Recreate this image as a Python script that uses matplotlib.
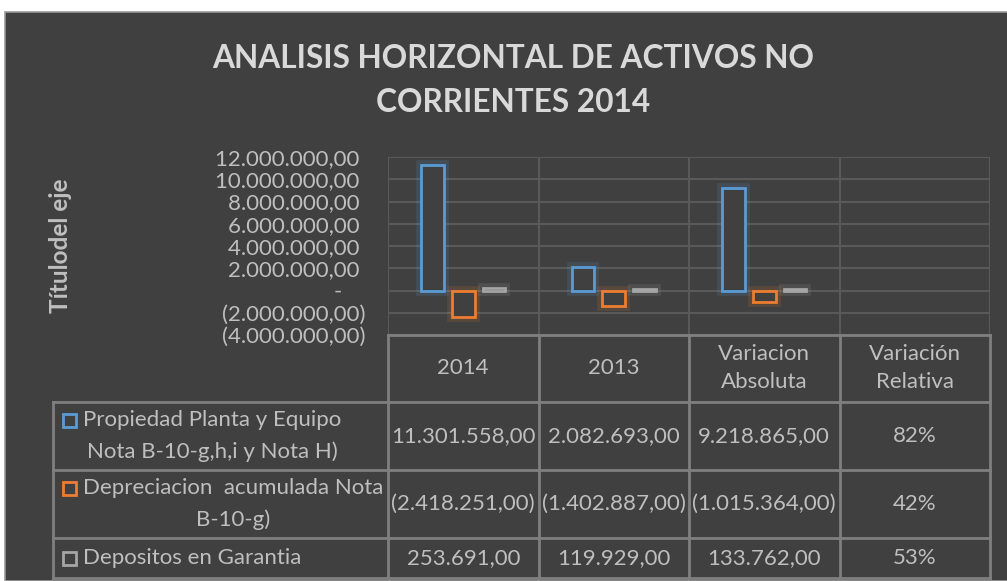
import matplotlib
matplotlib.use("Agg")
import matplotlib.pyplot as plt
from matplotlib.patches import Rectangle

plt.rcParams['font.family'] = ['Lato', 'DejaVu Sans']

# data
categories = ['2014', '2013', 'Variacion\nAbsoluta', 'Variación\nRelativa']
series_names = ['Propiedad Planta y Equipo\nNota B-10-g,h,i y Nota H)',
                'Depreciacion  acumulada Nota\nB-10-g)',
                'Depositos en Garantia']
propiedad = [11301558.00, 2082693.00, 9218865.00]
depreciacion = [-2418251.00, -1402887.00, -1015364.00]
depositos = [253691.00, 119929.00, 133762.00]
relativa = [0.82, 0.42, 0.53]
y_ticks = [-4e6, -2e6, 0, 2e6, 4e6, 6e6, 8e6, 10e6, 12e6]

series = [propiedad, depreciacion, depositos]
colors = ['#5B9BD5', '#ED7D31', '#A5A5A5']

BG = '#404040'
TXT = '#BFBFBF'
GRID = '#595959'
BORDER = '#7F7F7F'
FS = 16


def fmt(v, dash_zero=False):
    if v == 0 and dash_zero:
        return '-   '
    s = f'{abs(v):,.2f}'.replace(',', 'X').replace('.', ',').replace('X', '.')
    return f'({s})' if v < 0 else s


W, H = 1007, 581
fig = plt.figure(figsize=(W / 100, H / 100), dpi=100, facecolor='white')
fig.patches.append(Rectangle((5 / W, 0), 1, (H - 12) / H, transform=fig.transFigure,
                             facecolor=BG, edgecolor='#9a9a9a', lw=1.2, zorder=-10))

fig.text(0.5 + 10 / W, (H - 58) / H, 'ANALISIS HORIZONTAL DE ACTIVOS NO',
         ha='center', va='center', color='#D9D9D9', fontsize=22.8, fontweight='bold')
fig.text(0.5 + 10 / W, (H - 102) / H, 'CORRIENTES 2014',
         ha='center', va='center', color='#D9D9D9', fontsize=22.8, fontweight='bold')

# chart area
ax = fig.add_axes([388 / W, (H - 335) / H, 602 / W, 178 / H])
ax.patch.set_alpha(0)
ax.set_xlim(-0.5, 3.5)
ax.set_ylim(min(y_ticks), max(y_ticks))
ax.set_yticks(y_ticks)
ax.set_yticklabels([fmt(t, dash_zero=True) + ('' if t < 0 else ' ') for t in y_ticks])
ax.tick_params(axis='y', length=0, pad=16.5, labelcolor=TXT, labelsize=FS)
ax.set_xticks([])
for s in ax.spines.values():
    s.set_visible(False)
ax.grid(axis='y', color=GRID, lw=1.5, zorder=0)
for xb in range(len(categories) + 1):
    ax.axvline(xb - 0.5, color=GRID, lw=1.5, zorder=0)

offsets = [-0.203, 0.0, 0.203]
bw = 0.15
for vals, off, c in zip(series, offsets, colors):
    xs = [i + off for i in range(len(vals))]
    # soft glow
    ax.bar(xs, vals, bw, color='none', edgecolor=c, lw=7, alpha=0.15, zorder=2)
    ax.bar(xs, vals, bw, color=BG, edgecolor=c, lw=2, zorder=3)

fig.text(60 / W, (H - 246) / H, 'Títulodel eje', rotation=90, ha='center', va='center',
         color=TXT, fontsize=17.5, fontweight='bold')

# data table
tab = fig.add_axes([53 / W, (H - 578) / H, 937 / W, 243 / H])
tab.axis('off')
x_left = -0.5 - 335 / 150.5
tab.set_xlim(x_left, 3.5)
rows_y = [335, 402, 470, 538, 578]
tab.set_ylim(rows_y[-1], rows_y[0])

lk = dict(color=BORDER, lw=2, clip_on=False, solid_capstyle='projecting')
tab.plot([-0.5, 3.5], [rows_y[0]] * 2, **lk)
for yb in rows_y[1:]:
    tab.plot([x_left, 3.5], [yb, yb], **lk)
tab.plot([x_left, x_left], [rows_y[1], rows_y[-1]], **lk)
for xb in range(len(categories) + 1):
    tab.plot([xb - 0.5] * 2, [rows_y[0], rows_y[-1]], **lk)

for i, cat in enumerate(categories):
    tab.text(i, (rows_y[0] + rows_y[1]) / 2, cat, ha='center', va='center',
             color=TXT, fontsize=FS, linespacing=1.5)

for r, (name, vals, c) in enumerate(zip(series_names, series, colors)):
    yc = (rows_y[r + 1] + rows_y[r + 2]) / 2
    cells = [fmt(v) for v in vals] + [f'{relativa[r]:.0%}']
    for i, t in enumerate(cells):
        tab.text(i, yc, t, ha='center', va='center', color=TXT, fontsize=FS)
    nlines = name.count('\n') + 1
    y_first = yc - (nlines - 1) * 16
    tab.add_patch(Rectangle((x_left + 10 / 150.5, y_first + 6.5), 13 / 150.5, -13,
                            facecolor='none', edgecolor=c, lw=2, clip_on=False))
    tab.text(x_left + 30 / 150.5, yc, name, ha='left', va='center', multialignment='center',
             color=TXT, fontsize=FS, linespacing=1.65)

fig.savefig('out.png', dpi=100)
